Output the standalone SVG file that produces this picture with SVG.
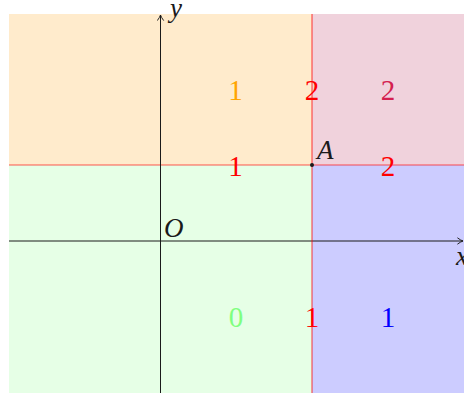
<svg xmlns="http://www.w3.org/2000/svg" width="464" height="394" viewBox="0 0 464 394">
<style>
.lbl{font-style:italic;font-size:27px;fill:#1a1a1a}
.num{font-size:29px;text-anchor:middle}
.axis{stroke:#1a1a1a;stroke-width:1;fill:none}
.red{stroke:#ff0000;stroke-opacity:0.65;stroke-width:1.2;fill:none}
</style>
<defs>
<marker id="arr" viewBox="0 0 10 10" refX="9" refY="5" markerWidth="8" markerHeight="8" markerUnits="userSpaceOnUse" orient="auto">
<path d="M2,1 Q6,4 9,5 Q6,6 2,9" fill="none" stroke="#1a1a1a" stroke-width="1.2"/>
</marker>
</defs>
<g id="regions">
<rect id="region-orange" x="9" y="14" width="303" height="151" fill="#FFEBCC"/>
<rect id="region-pink" x="312" y="14" width="152" height="151" fill="#F0D2DC"/>
<rect id="region-green" x="9" y="165" width="303" height="228" fill="#E6FFE6"/>
<rect id="region-blue" x="312" y="165" width="152" height="228" fill="#CCCCFF"/>
</g>
<g id="connectors">
<line class="red" x1="9" y1="165" x2="464" y2="165"/>
<line class="axis" x1="9" y1="241" x2="463" y2="241" marker-end="url(#arr)"/>
<line class="axis" x1="160.5" y1="393" x2="160.5" y2="15" marker-end="url(#arr)"/>
<line class="red" x1="312" y1="14" x2="312" y2="393"/>
</g>
<g font-family="'Liberation Serif', 'DejaVu Serif', serif">
<g id="point-A">
<circle cx="312" cy="165" r="2" fill="#1a1a1a"/>
<text class="lbl" x="317" y="159">A</text>
</g>
<g id="label-O"><text class="lbl" x="164" y="237">O</text></g>
<g id="label-x"><text class="lbl" x="456" y="265">x</text></g>
<g id="label-y"><text class="lbl" x="170" y="17">y</text></g>
<g id="numbers">
<text class="num" x="235.5" y="100" fill="#FFA500">1</text>
<text class="num" x="312" y="100" fill="#FF0000">2</text>
<text class="num" x="388" y="100" fill="#D4204F">2</text>
<text class="num" x="235.5" y="176" fill="#FF0000">1</text>
<text class="num" x="388" y="176" fill="#FF0000">2</text>
<text class="num" x="236" y="327" fill="#80FF80">0</text>
<text class="num" x="312" y="327" fill="#FF0000">1</text>
<text class="num" x="388" y="327" fill="#0000FF">1</text>
</g>
</g>
</svg>
